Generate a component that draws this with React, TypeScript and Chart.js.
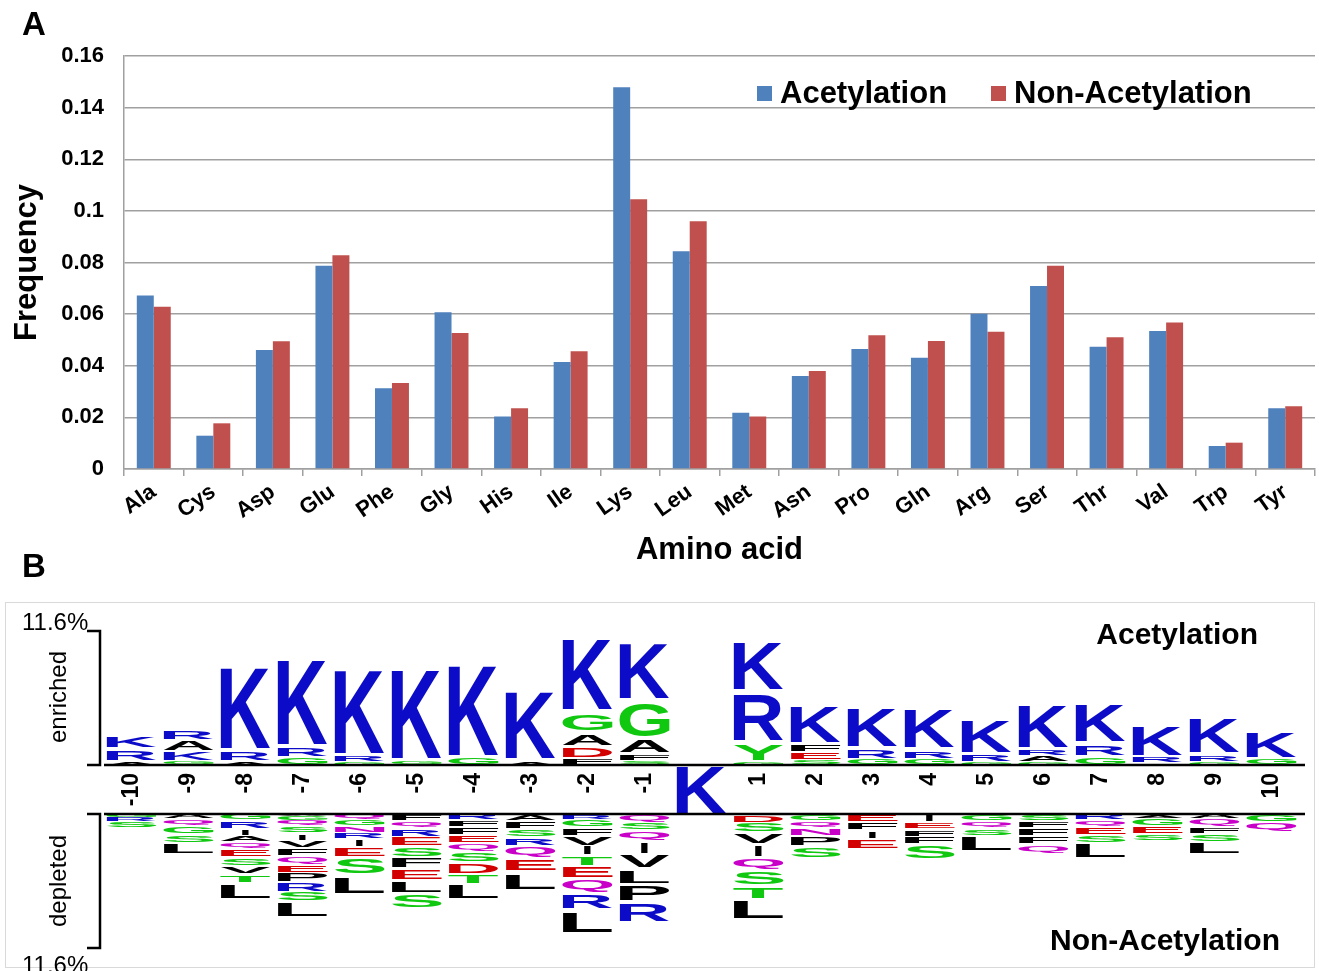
import React, { useEffect, useRef } from 'react';
import { Chart, registerables } from 'chart.js';

Chart.register(...registerables);

const FONT = '"Liberation Sans", Arial, Helvetica, sans-serif';

// ---------- Panel A data ----------
const aminoAcids = ['Ala', 'Cys', 'Asp', 'Glu', 'Phe', 'Gly', 'His', 'Ile', 'Lys', 'Leu', 'Met', 'Asn', 'Pro', 'Gln', 'Arg', 'Ser', 'Thr', 'Val', 'Trp', 'Tyr'];
const acetylation = [0.0672, 0.0129, 0.0461, 0.0787, 0.0313, 0.0607, 0.0203, 0.0415, 0.1479, 0.0844, 0.0218, 0.0360, 0.0465, 0.0431, 0.0601, 0.0709, 0.0474, 0.0535, 0.0089, 0.0235];
const nonAcetylation = [0.0629, 0.0177, 0.0495, 0.0828, 0.0333, 0.0527, 0.0235, 0.0456, 0.1045, 0.0960, 0.0203, 0.0380, 0.0518, 0.0496, 0.0532, 0.0787, 0.0510, 0.0568, 0.0102, 0.0243];
const yAxisMax = 0.16;
const yAxisStep = 0.02;

// ---------- Panel B data (pLogo, % units) ----------
const logoPositions = [-10, -9, -8, -7, -6, -5, -4, -3, -2, -1, 0, 1, 2, 3, 4, 5, 6, 7, 8, 9, 10];
const logoScaleMax = 11.6;
const centerResidue = 'K';
// enriched: letters listed from baseline upwards
const enrichedLetters = ['ARK', 'GKAR', 'ARK', 'GRK', 'GRK', 'GK', 'GK', 'AK', 'FDAGK', 'SFAGK', '', 'GYRK', 'SEFK', 'GRK', 'GRK', 'GRK', 'GARK', 'GRK', 'GRK', 'GRK', 'GK'];
const enrichedHeights = [
  [0.35, 1.04, 1.21], [0.35, 0.87, 0.95, 0.87], [0.35, 0.87, 7.36], [0.69, 0.87, 7.71], [0.26, 0.52, 7.62],
  [0.35, 8.05], [0.69, 8.14], [0.35, 6.15], [0.6, 0.95, 1.21, 1.83, 6.5], [0.35, 0.6, 1.34, 3.29, 5.2],
  [], [0.26, 1.73, 4.33, 4.5], [0.43, 0.69, 0.69, 3.46], [0.52, 0.87, 3.72], [0.52, 0.78, 3.64],
  [0.26, 0.69, 3.12], [0.26, 0.52, 0.52, 4.07], [0.78, 1.04, 3.55], [0.17, 0.52, 2.94], [0.26, 0.61, 3.29], [0.52, 2.51],
];
// depleted: letters listed from baseline downwards
const depletedLetters = ['GRS', 'AQGSL', 'GRIAQESVTL', 'AGQSIVFQEPRSL', 'QGNRIESL', 'FQRESFELS', 'RFFEQSDTL', 'AFSRQEL', 'RGFVITEQRL', 'QSQIVLPR', '', 'DSVIQSTL', 'GQNPS', 'EFIE', 'IEFFS', 'GQSL', 'SFFFQ', 'RQESL', 'AGES', 'AQFSL', 'GQ'];
const depletedHeights = [
  [0.26, 0.35, 0.61], [0.43, 0.61, 0.69, 0.78, 0.95],
  [0.52, 0.78, 0.61, 0.52, 0.61, 0.69, 0.78, 0.69, 0.78, 1.47],
  [0.17, 0.39, 0.48, 0.61, 0.65, 0.65, 0.69, 0.69, 0.74, 0.82, 0.87, 0.82, 1.43],
  [0.52, 0.52, 0.61, 0.52, 0.69, 0.87, 1.56, 1.73],
  [0.61, 0.61, 0.78, 0.82, 0.91, 1.0, 1.04, 1.08, 1.39],
  [0.52, 0.61, 0.69, 0.69, 0.74, 0.91, 1.04, 0.87, 1.39],
  [0.61, 0.69, 0.69, 0.78, 1.04, 1.21, 1.65],
  [0.48, 0.69, 0.78, 0.82, 0.82, 0.91, 1.08, 1.34, 1.39, 2.08],
  [0.69, 0.74, 0.91, 1.13, 1.3, 1.34, 1.56, 1.82],
  [],
  [0.78, 0.82, 1.0, 1.13, 1.21, 1.3, 1.17, 1.82],
  [0.61, 0.61, 0.69, 0.87, 1.04],
  [0.69, 0.74, 0.78, 0.87],
  [0.69, 0.61, 0.65, 0.69, 1.3],
  [0.61, 0.61, 0.65, 1.39],
  [0.61, 0.61, 0.69, 0.74, 0.82],
  [0.52, 0.61, 0.69, 0.69, 1.39],
  [0.35, 0.69, 0.65, 0.65],
  [0.43, 0.65, 0.65, 0.69, 1.08],
  [0.69, 0.87],
];

// layout constants (not data)
const BASELINE_GAP = 4.24; // gap between enriched and depleted baselines, in % units

const BLUE = '#0c0cc8';
const GREEN = '#10c810';
const RED = '#d20000';
const MAGENTA = '#c800c8';

function residueColor(ch: string) {
  if ('KRH'.includes(ch)) return BLUE;
  if ('DE'.includes(ch)) return RED;
  if ('QN'.includes(ch)) return MAGENTA;
  if ('GSTYC'.includes(ch)) return GREEN;
  return '#000000';
}

function drawGlyph(ctx: CanvasRenderingContext2D, ch: string, cx: number, yTop: number, yBot: number, width: number, padOverride?: number) {
  const h = yBot - yTop;
  if (h <= 0.3) return;
  const pad = padOverride !== undefined ? padOverride : Math.min(h * 0.12, 2.5);
  const gh = h - 2 * pad;
  if (gh <= 0.2) return;
  ctx.save();
  ctx.font = `bold 100px ${FONT}`;
  ctx.textAlign = 'left';
  ctx.textBaseline = 'alphabetic';
  const m = ctx.measureText(ch);
  const bw = m.actualBoundingBoxLeft + m.actualBoundingBoxRight;
  const bh = m.actualBoundingBoxAscent + m.actualBoundingBoxDescent;
  const w = ch === 'I' ? width * 0.14 : width;
  ctx.translate(cx - w / 2, yTop + pad);
  ctx.scale(w / bw, gh / bh);
  ctx.fillStyle = residueColor(ch);
  ctx.fillText(ch, m.actualBoundingBoxLeft, m.actualBoundingBoxAscent);
  ctx.restore();
}

const logoPlugin = {
  id: 'logoLetters',
  afterDatasetsDraw(chart: any) {
    const { ctx, scales } = chart;
    const xs = scales.x;
    const ys = scales.y;
    const colW = xs.getPixelForValue(1) - xs.getPixelForValue(0);
    const letterW = colW * 0.88;
    logoPositions.forEach((p, i) => {
      const cx = xs.getPixelForValue(p);
      let acc = 0;
      const eL = enrichedLetters[i];
      const eH = enrichedHeights[i];
      for (let j = 0; j < eL.length; j++) {
        const yB = ys.getPixelForValue(acc);
        const yT = ys.getPixelForValue(acc + eH[j]);
        drawGlyph(ctx, eL[j], cx, yT, yB, letterW);
        acc += eH[j];
      }
      let dep = -BASELINE_GAP;
      const dL = depletedLetters[i];
      const dH = depletedHeights[i];
      for (let j = 0; j < dL.length; j++) {
        const yT = ys.getPixelForValue(dep);
        const yB = ys.getPixelForValue(dep - dH[j]);
        drawGlyph(ctx, dL[j], cx, yT, yB, letterW);
        dep -= dH[j];
      }
    });
    // modified central residue
    const c0 = xs.getPixelForValue(0);
    drawGlyph(ctx, centerResidue, c0, ys.getPixelForValue(0) + 1, ys.getPixelForValue(-BASELINE_GAP) - 1, letterW, 0);

    ctx.save();
    ctx.strokeStyle = '#000';
    ctx.lineWidth = 2.5;
    const xl = xs.getPixelForValue(-10.5) + 1;
    const xr = xs.getPixelForValue(10.5) + 5;
    [0, -BASELINE_GAP].forEach((v) => {
      const yy = Math.round(ys.getPixelForValue(v));
      ctx.beginPath();
      ctx.moveTo(xl, yy);
      ctx.lineTo(xr, yy);
      ctx.stroke();
    });
    const bx = xs.getPixelForValue(-10.5) - 3;
    [[0, logoScaleMax], [-BASELINE_GAP, -BASELINE_GAP - logoScaleMax]].forEach(([a, b]) => {
      const ya = Math.round(ys.getPixelForValue(a));
      const yb = Math.round(ys.getPixelForValue(b));
      ctx.beginPath();
      ctx.moveTo(bx - 13, ya);
      ctx.lineTo(bx, ya);
      ctx.lineTo(bx, yb);
      ctx.lineTo(bx - 13, yb);
      ctx.stroke();
    });
    ctx.restore();
  },
};

function Txt(props: { x: number; baseline: number; size: number; bold?: boolean; right?: boolean; children: React.ReactNode }) {
  const { x, baseline, size, bold, right, children } = props;
  const style: React.CSSProperties = {
    position: 'absolute',
    top: baseline - 0.8465 * size,
    fontSize: size,
    lineHeight: `${size}px`,
    fontWeight: bold ? 'bold' : 'normal',
    whiteSpace: 'nowrap',
    color: '#000',
  };
  if (right) style.right = 1319 - x;
  else style.left = x;
  return <div style={style}>{children}</div>;
}

function RotTxt(props: { cx: number; cy: number; size: number; children: React.ReactNode }) {
  return (
    <div
      style={{
        position: 'absolute',
        left: props.cx,
        top: props.cy,
        fontSize: props.size,
        lineHeight: `${props.size}px`,
        whiteSpace: 'nowrap',
        transform: 'translate(-50%, -50%) rotate(-90deg)',
        color: '#000',
      }}
    >
      {props.children}
    </div>
  );
}

export default function App() {
  const refA = useRef<HTMLCanvasElement>(null);
  const refB = useRef<HTMLCanvasElement>(null);

  useEffect(() => {
    const gridGray = '#a0a0a0';
    const chartA = new Chart(refA.current as HTMLCanvasElement, {
      type: 'bar',
      data: {
        labels: aminoAcids,
        datasets: [
          { label: 'Acetylation', data: acetylation, backgroundColor: '#4F81BD', categoryPercentage: 0.57, barPercentage: 1.0 },
          { label: 'Non-Acetylation', data: nonAcetylation, backgroundColor: '#C0504D', categoryPercentage: 0.57, barPercentage: 1.0 },
        ],
      },
      options: {
        responsive: false,
        animation: false,
        layout: { padding: { left: 0, right: 4, top: 56, bottom: 0 } },
        plugins: { legend: { display: false }, tooltip: { enabled: false } },
        scales: {
          x: {
            offset: true,
            grid: { display: true, drawOnChartArea: false, drawTicks: true, tickLength: 7, color: gridGray, lineWidth: 1.5, offset: true },
            border: { display: true, color: gridGray, width: 1.5 },
            ticks: { autoSkip: false, minRotation: 35, maxRotation: 35, padding: 3, color: '#000', font: { family: FONT, size: 22, weight: 'bold' } },
            title: { display: true, text: 'Amino acid', color: '#000', font: { family: FONT, size: 31, weight: 'bold' }, padding: { top: 0, bottom: 21 } },
            afterFit: (s: any) => { s.height = 121; },
          },
          y: {
            min: 0,
            max: yAxisMax,
            grid: { color: gridGray, lineWidth: 1.5, drawTicks: false },
            border: { display: true, color: gridGray, width: 1.5 },
            ticks: {
              stepSize: yAxisStep,
              padding: 20,
              color: '#000',
              font: { family: FONT, size: 22, weight: 'bold' },
              callback: (v: any) => String(+Number(v).toFixed(2)),
            },
            title: { display: true, text: 'Frequency', color: '#000', font: { family: FONT, size: 31, weight: 'bold' }, padding: { top: 9, bottom: 0 } },
            afterFit: (s: any) => { s.width = 124; },
          },
        },
      } as any,
    });

    const chartB = new Chart(refB.current as HTMLCanvasElement, {
      type: 'scatter',
      data: { datasets: [] },
      options: {
        responsive: false,
        animation: false,
        layout: { padding: { left: 103, right: 19, top: 41, bottom: 23 } },
        plugins: { legend: { display: false }, tooltip: { enabled: false } },
        scales: {
          x: {
            type: 'linear',
            min: -10.5,
            max: 10.5,
            position: { y: 0 },
            grid: { display: false, drawTicks: false },
            border: { display: false },
            afterBuildTicks: (s: any) => {
              s.ticks = logoPositions.filter((p) => p !== 0).map((v) => ({ value: v }));
            },
            ticks: {
              autoSkip: false,
              minRotation: 90,
              maxRotation: 90,
              padding: 8,
              color: '#000',
              font: { family: FONT, size: 23, weight: 'bold' },
              callback: (v: any) => String(v),
            },
          },
          y: {
            type: 'linear',
            min: -(BASELINE_GAP + logoScaleMax),
            max: logoScaleMax,
            display: false,
          },
        },
      } as any,
      plugins: [logoPlugin],
    });

    return () => {
      chartA.destroy();
      chartB.destroy();
    };
  }, []);

  return (
    <div style={{ position: 'fixed', left: 0, top: 0, width: 1319, height: 971, overflow: 'hidden', background: '#fff', fontFamily: FONT }}>
      <canvas ref={refA} width={1319} height={590} style={{ position: 'absolute', left: 0, top: 0, width: 1319, height: 590 }} />
      <Txt x={22} baseline={35} size={33} bold>A</Txt>
      {/* legend */}
      <div style={{ position: 'absolute', left: 757, top: 86, width: 15, height: 15, background: '#4F81BD' }} />
      <Txt x={780} baseline={103} size={31} bold>Acetylation</Txt>
      <div style={{ position: 'absolute', left: 991, top: 86, width: 15, height: 15, background: '#C0504D' }} />
      <Txt x={1014} baseline={103} size={31} bold>Non-Acetylation</Txt>

      <Txt x={22} baseline={577} size={33} bold>B</Txt>
      <div style={{ position: 'absolute', left: 5, top: 602, width: 1308, height: 364, border: '1.5px solid #d9d9d9' }} />
      <canvas ref={refB} width={1319} height={381} style={{ position: 'absolute', left: 0, top: 590, width: 1319, height: 381 }} />
      <Txt x={22} baseline={630} size={24}>11.6%</Txt>
      <Txt x={22} baseline={973} size={24}>11.6%</Txt>
      <RotTxt cx={58} cy={697} size={24}>enriched</RotTxt>
      <RotTxt cx={58} cy={881} size={24}>depleted</RotTxt>
      <Txt x={1258} baseline={644} size={30} bold right>Acetylation</Txt>
      <Txt x={1280} baseline={950} size={30} bold right>Non-Acetylation</Txt>
    </div>
  );
}
